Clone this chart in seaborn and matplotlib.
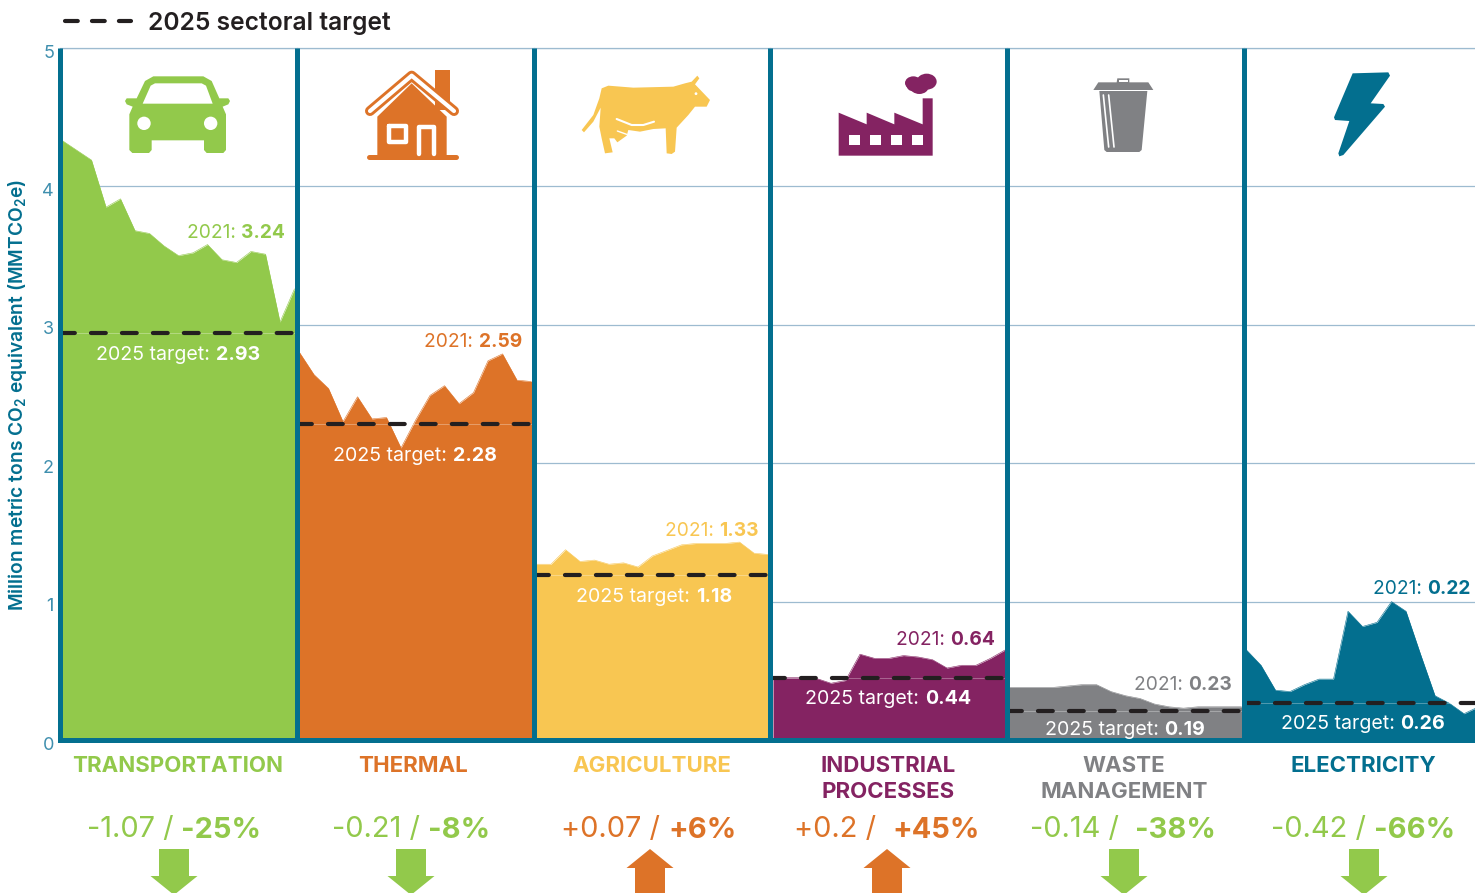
"""Sector emissions panels against the 2025 targets."""

from __future__ import annotations

import matplotlib

matplotlib.use("Agg")

import matplotlib.pyplot as plt
import matplotlib.transforms as mtransforms
import pandas as pd
import seaborn as sns
from matplotlib.patches import Circle, Ellipse, Polygon, Rectangle

YEARS = list(range(2005, 2022))
SECTORS = ["Transportation", "Thermal", "Agriculture", "Industrial", "Waste", "Electricity"]
NAME_LINES = [["TRANSPORTATION"], ["THERMAL"], ["AGRICULTURE"], ["INDUSTRIAL", "PROCESSES"], ["WASTE", "MANAGEMENT"], ["ELECTRICITY"]]

TRANSPORTATION = [4.33, 4.26, 4.19, 3.85, 3.91, 3.68, 3.66, 3.57, 3.50, 3.52, 3.58, 3.47, 3.45, 3.53, 3.51, 3.02, 3.26]
THERMAL = [2.80, 2.64, 2.54, 2.30, 2.48, 2.32, 2.33, 2.11, 2.31, 2.49, 2.56, 2.43, 2.51, 2.74, 2.79, 2.60, 2.59]
AGRICULTURE = [1.27, 1.27, 1.375, 1.29, 1.30, 1.27, 1.28, 1.25, 1.33, 1.37, 1.41, 1.42, 1.42, 1.42, 1.43, 1.35, 1.34]
INDUSTRIAL = [0.46, 0.45, 0.45, 0.445, 0.41, 0.43, 0.62, 0.59, 0.59, 0.61, 0.60, 0.58, 0.52, 0.54, 0.54, 0.59, 0.65]
WASTE = [0.38, 0.38, 0.38, 0.38, 0.39, 0.40, 0.40, 0.35, 0.32, 0.30, 0.26, 0.24, 0.23, 0.24, 0.24, 0.24, 0.24]
ELECTRICITY = [0.65, 0.54, 0.36, 0.35, 0.40, 0.44, 0.44, 0.93, 0.82, 0.85, 1.00, 0.93, 0.62, 0.32, 0.265, 0.19, 0.24]
SERIES = [TRANSPORTATION, THERMAL, AGRICULTURE, INDUSTRIAL, WASTE, ELECTRICITY]

TARGET_LEVELS = [2.94, 2.28, 1.19, 0.45, 0.21, 0.27]
TARGET_LABELS = ["2.93", "2.28", "1.18", "0.44", "0.19", "0.26"]
LATEST_LABELS = ["3.24", "2.59", "1.33", "0.64", "0.23", "0.22"]
CHANGE_ABS = ["-1.07 / ", "-0.21 / ", "+0.07 / ", "+0.2 /  ", "-0.14 /  ", "-0.42 / "]
CHANGE_PCT = ["-25%", "-8%", "+6%", "+45%", "-38%", "-66%"]
TICKS = [0, 1, 2, 3, 4, 5]

GREEN = "#92C94B"
ORANGE = "#DD7328"
YELLOW = "#F8C652"
PURPLE = "#842362"
GREY = "#808184"
BLUE = "#036F8F"
COLORS = [GREEN, ORANGE, YELLOW, PURPLE, GREY, BLUE]
CHANGE_COLORS = [GREEN, GREEN, ORANGE, ORANGE, GREEN, GREEN]

EDGES = [59.5, 296.5, 533.5, 770, 1006.5, 1243.5, 1475]
WIDTH, HEIGHT = 1475, 893
Y0, Y5 = 740, 48
FONT = "Inter"


def mixed_text(overlay, x, y, first, second, color, size, anchor="center"):
    """Write regular + bold text as one run, anchored in overlay pixels."""

    renderer = overlay.figure.canvas.get_renderer()
    left = overlay.text(0, y, first, color=color, fontsize=size, va="center_baseline", ha="left")
    right = overlay.text(0, y, second, color=color, fontsize=size, va="center_baseline", ha="left", weight="bold")
    width_a = left.get_window_extent(renderer).width
    width_b = right.get_window_extent(renderer).width
    start = x - (width_a + width_b) / 2 if anchor == "center" else x - width_a - width_b
    left.set_x(start)
    right.set_x(start + width_a)


def draw_arrow(overlay, x, half_head, half_shaft, color, up):
    """Draw the clipped block arrows along the bottom edge."""

    if up:
        points = [(x, 849), (x + half_head, 868), (x + half_shaft, 868), (x + half_shaft, 893),
                  (x - half_shaft, 893), (x - half_shaft, 868), (x - half_head, 868)]
    else:
        points = [(x - half_shaft, 849), (x + half_shaft, 849), (x + half_shaft, 876), (x + half_head, 876),
                  (x, 895), (x - half_head, 876), (x - half_shaft, 876)]
    overlay.add_patch(Polygon(points, closed=True, color=color, lw=0))


def shift(points, x0, y0):
    """Map zoomed icon sketch points (3x) to figure pixels."""

    return [(x0 + px / 3, y0 + py / 3) for px, py in points]


def draw_icons(overlay):
    """Hand-traced sector icons."""

    # car
    x0, y0 = 100, 55
    car = [(110, 130), (135, 78), (160, 64), (310, 64), (335, 78), (358, 130), (385, 130), (390, 138), (385, 148),
           (368, 155), (378, 178), (378, 285), (370, 294), (320, 294), (312, 285), (312, 256), (155, 256),
           (155, 285), (147, 294), (97, 294), (88, 285), (88, 178), (98, 155), (80, 148), (75, 138), (80, 130)]
    overlay.add_patch(Polygon(shift(car, x0, y0), color=GREEN, lw=0))
    shield = [(128, 146), (152, 92), (165, 85), (305, 85), (318, 92), (338, 146)]
    overlay.add_patch(Polygon(shift(shield, x0, y0), color="white", lw=0))
    for cx in (132, 332):
        overlay.add_patch(Circle(*shift([(cx, 205)], x0, y0), radius=6.7, color="white", lw=0))

    # house
    body = [(832, 185), (935, 85), (1040, 185), (1040, 300), (832, 300)]
    overlay.add_patch(Polygon(shift(body, x0, y0), color=ORANGE, lw=0))
    overlay.add_patch(Rectangle(*shift([(1005, 45)], x0, y0), 14.5, 40, color=ORANGE, lw=0))
    roof = shift([(810, 168), (935, 62), (1062, 168)], x0, y0)
    xs, ys = zip(*roof)
    overlay.plot(xs, ys, color=ORANGE, lw=7.2, solid_capstyle="round", solid_joinstyle="round")
    overlay.plot(xs, ys, color="white", lw=3, solid_capstyle="round", solid_joinstyle="round")
    xs, ys = zip(*shift([(808, 307), (1067, 307)], x0, y0))
    overlay.plot(xs, ys, color=ORANGE, lw=3.6, solid_capstyle="round")
    xs, ys = zip(*shift([(868, 212), (918, 212), (918, 260), (868, 260), (868, 212)], x0, y0))
    overlay.plot(xs, ys, color="white", lw=3.2, solid_joinstyle="round")
    xs, ys = zip(*shift([(957, 298), (957, 215), (1003, 215), (1003, 298)], x0, y0))
    overlay.plot(xs, ys, color="white", lw=3.2, solid_joinstyle="round")

    # cow
    x0, y0 = 560, 55
    cow = [(65, 225), (100, 180), (118, 130), (125, 100), (145, 92), (220, 98), (340, 95), (375, 85), (395, 80),
           (412, 62), (418, 70), (405, 88), (450, 135), (440, 155), (405, 155), (385, 180), (350, 218), (345, 290),
           (335, 297), (320, 295), (317, 220), (280, 222), (240, 230), (205, 225), (200, 242), (172, 262), (163, 250),
           (148, 250), (158, 292), (135, 295), (125, 250), (118, 215), (122, 158), (100, 200), (72, 232)]
    overlay.add_patch(Polygon(shift(cow, x0, y0), color=YELLOW, lw=0))
    xs, ys = zip(*shift([(170, 192), (215, 210), (250, 210), (282, 200)], x0, y0))
    overlay.plot(xs, ys, color="white", lw=1.5)
    xs, ys = zip(*shift([(172, 228), (200, 238)], x0, y0))
    overlay.plot(xs, ys, color="white", lw=1.0)
    overlay.add_patch(Circle(*shift([(408, 116)], x0, y0), radius=1.4, color="white", lw=0))

    # factory
    factory = [(836, 173), (920, 208), (920, 173), (1003, 208), (1003, 173), (1088, 208), (1088, 130), (1118, 130),
               (1118, 302), (836, 302)]
    overlay.add_patch(Polygon(shift(factory, x0, y0), color=PURPLE, lw=0))
    for wx in (868, 930, 993, 1056):
        overlay.add_patch(Rectangle(*shift([(wx, 240)], x0, y0), 10.7, 10, color="white", lw=0))
    for cx, cy, w, h in [(1060, 84, 50, 40), (1100, 80, 60, 48), (1078, 95, 56, 44), (1060, 92, 40, 34)]:
        overlay.add_patch(Ellipse(*shift([(cx, cy)], x0, y0), w / 3, h / 3, color=PURPLE, lw=0))

    # bin
    x0, y0 = 1060, 55
    lid = [(100, 105), (115, 82), (170, 82), (172, 70), (208, 70), (208, 82), (265, 82), (280, 105)]
    overlay.add_patch(Polygon(shift(lid, x0, y0), color=GREY, lw=0))
    overlay.add_patch(Rectangle(*shift([(177, 75)], x0, y0), 8.7, 2, color="white", lw=0))
    can = [(118, 108), (262, 108), (245, 285), (238, 291), (140, 291), (133, 285)]
    overlay.add_patch(Polygon(shift(can, x0, y0), color=GREY, lw=0))
    for top, bottom in [(130, 146), (146, 162)]:
        xs, ys = zip(*shift([(top, 120), (bottom, 276)], x0, y0))
        overlay.plot(xs, ys, color="white", lw=1.2)

    # lightning bolt
    bolt = [(878, 55), (985, 52), (990, 62), (932, 145), (970, 147), (975, 155), (850, 300), (838, 304), (835, 295),
            (868, 198), (825, 195), (822, 187)]
    overlay.add_patch(Polygon(shift(bolt, x0, y0), color=BLUE, lw=0))


def main() -> None:
    """Build the six abutting panels and their annotations."""

    sns.set_theme(style="white")
    plt.rcParams["font.family"] = [FONT, "DejaVu Sans"]
    plt.rcParams["mathtext.default"] = "regular"

    frame = pd.DataFrame(
        [(s, y, v) for s, values in zip(SECTORS, SERIES) for y, v in zip(YEARS, values)],
        columns=["sector", "year", "mmtco2e"],
    )

    figure = plt.figure(figsize=(WIDTH / 100, HEIGHT / 100), dpi=100)
    for index, sector in enumerate(SECTORS):
        left, right = EDGES[index], EDGES[index + 1]
        axis = figure.add_axes(
            [left / WIDTH, (HEIGHT - Y0) / HEIGHT, (right - left) / WIDTH, (Y0 - Y5) / HEIGHT], facecolor="none"
        )
        data = frame[frame["sector"] == sector]
        sns.lineplot(data=data, x="year", y="mmtco2e", color=COLORS[index], lw=0.4, errorbar=None, ax=axis, zorder=2)
        axis.fill_between(data["year"], data["mmtco2e"], 0, color=COLORS[index], lw=0, zorder=2)
        axis.axhline(TARGET_LEVELS[index], color="white", alpha=0.3, lw=0.7, zorder=3)
        axis.axhline(
            TARGET_LEVELS[index], color="#231F20", lw=3, linestyle=(0, (3.56, 3.87)), dash_capstyle="round", zorder=4
        )

        step = 14.5
        axis.set_xlim(YEARS[0] - 3 / step, YEARS[0] + (right - left - 3) / step)
        axis.set_ylim(0, 5)
        axis.set_xlabel("")
        axis.set_ylabel("")
        axis.set_xticks([])
        axis.set_yticks(TICKS)
        axis.grid(axis="y", color="#9DBBD0", lw=0.9, zorder=1)
        axis.set_axisbelow(True)
        axis.spines["top"].set(color="#9DBBD0", lw=0.9, visible=True)
        axis.spines["right"].set_visible(False)
        axis.spines["left"].set(color=BLUE, lw=3.6, visible=True, zorder=5, capstyle="butt")
        axis.spines["bottom"].set(color=BLUE, lw=3.6, visible=True, zorder=5)
        if index == 0:
            axis.tick_params(axis="y", length=0, pad=4, labelsize=13, labelcolor="#3F8FAE")
            offset = mtransforms.ScaledTranslation(0, -3 / 100, figure.dpi_scale_trans)
            for label in axis.get_yticklabels():
                label.set_transform(label.get_transform() + offset)
        else:
            axis.tick_params(axis="y", length=0, labelleft=False)

    overlay = figure.add_axes([0, 0, 1, 1], facecolor="none", zorder=10)
    overlay.set_xlim(0, WIDTH)
    overlay.set_ylim(HEIGHT, 0)
    overlay.axis("off")
    figure.canvas.draw()

    overlay.plot([65, 131], [21, 21], color="#231F20", lw=3, linestyle=(0, (3.07, 3.4)), dash_capstyle="round")
    overlay.text(148, 21, "2025 sectoral target", color="#231F20", fontsize=17.7, va="center_baseline", weight="semibold")
    overlay.text(
        18, 395, "Million metric tons CO$_2$ equivalent (MMTCO$_2$e)", color=BLUE, fontsize=13.8,
        rotation=90, ha="center", va="center", weight="semibold",
    )

    latest_xy = [(285, 231), (522, 340), (759, 529), (995, 638), (1232, 683), (1471, 587)]
    target_xy = [(178, 353), (415, 454), (654, 595), (888, 697), (1125, 728), (1363, 722)]
    name_x = [178, 413, 652, 888, 1124, 1363]
    change_x = [174, 411, 649, 887, 1123, 1363]
    arrow_x = [174, 411, 650, 887, 1124, 1364]
    arrow_up = [False, False, True, True, False, False]
    for index in range(6):
        mixed_text(overlay, *latest_xy[index], "2021: ", LATEST_LABELS[index], COLORS[index], 13.8, anchor="right")
        mixed_text(overlay, *target_xy[index], "2025 target: ", TARGET_LABELS[index], "white", 14.1)
        for row, line in enumerate(NAME_LINES[index]):
            overlay.text(
                name_x[index], 764 + 26 * row, line, color=COLORS[index], fontsize=16, ha="center",
                va="center_baseline", weight="bold",
            )
        mixed_text(overlay, change_x[index], 827, CHANGE_ABS[index], CHANGE_PCT[index], CHANGE_COLORS[index], 20.9)
        draw_arrow(overlay, arrow_x[index], 23.5, 15, CHANGE_COLORS[index], arrow_up[index])

    draw_icons(overlay)
    figure.savefig("out.png", dpi=100)
    plt.close(figure)


if __name__ == "__main__":
    main()
